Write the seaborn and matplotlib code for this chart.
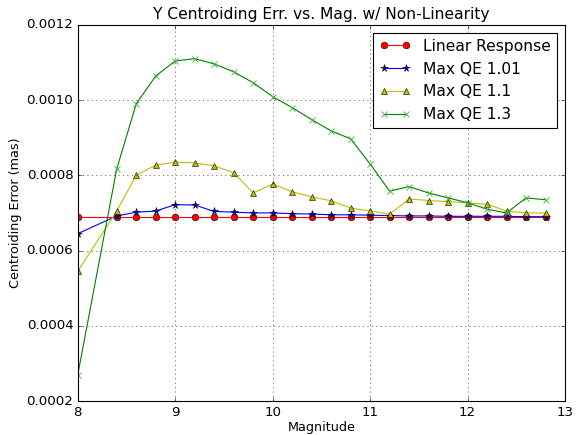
import numpy as np
import pandas as pd
import matplotlib
matplotlib.use("Agg")
import matplotlib.pyplot as plt
import matplotlib.ticker as mticker
import seaborn as sns

magnitude = [8.0, 8.4, 8.6, 8.8, 9.0, 9.2, 9.4, 9.6, 9.8, 10.0, 10.2, 10.4,
             10.6, 10.8, 11.0, 11.2, 11.4, 11.6, 11.8, 12.0, 12.2, 12.4, 12.6, 12.8]

linear_resp = [0.00069] * 24
qe_101 = [0.000645, 0.000692, 0.000702, 0.000705, 0.000722, 0.000721, 0.000704,
          0.000702, 0.000700, 0.000700, 0.000698, 0.000697, 0.000695, 0.000695,
          0.000694, 0.000693, 0.000692, 0.000692, 0.000691, 0.000691, 0.000691,
          0.000691, 0.000690, 0.000690]
qe_11 = [0.000545, 0.000705, 0.000800, 0.000827, 0.000835, 0.000833, 0.000825,
         0.000807, 0.000753, 0.000777, 0.000756, 0.000743, 0.000732, 0.000713,
         0.000705, 0.000697, 0.000737, 0.000733, 0.000730, 0.000727, 0.000723,
         0.000705, 0.000700, 0.000700]
qe_13 = [0.000270, 0.000817, 0.000990, 0.001064, 0.001104, 0.001110, 0.001096,
         0.001075, 0.001046, 0.001009, 0.000980, 0.000948, 0.000918, 0.000897,
         0.000830, 0.000758, 0.000770, 0.000753, 0.000740, 0.000727, 0.000710,
         0.000700, 0.000740, 0.000735]

series = [
    ("Linear Response", linear_resp, "r", "o"),
    ("Max QE 1.01", qe_101, "b", "*"),
    ("Max QE 1.1", qe_11, "y", "^"),
    ("Max QE 1.3", qe_13, "g", "x"),
]

plt.style.use("classic")
plt.rcParams["font.family"] = ["DejaVu Sans"]

# old-style 80 dpi figure
fig = plt.figure(figsize=(576 / 80, 435 / 80), dpi=80)
ax = fig.add_axes([0.135, 0.078, 0.846, 0.865])

for name, vals, col, mk in series:
    df = pd.DataFrame({"Magnitude": magnitude, "err": vals})
    if mk == "x":
        kw = dict(markeredgecolor="#3cb83c", markeredgewidth=0.8, markersize=6)
    else:
        kw = dict(markeredgecolor="k", markeredgewidth=0.5,
                  markersize=6 if mk != "*" else 7)
    sns.lineplot(data=df, x="Magnitude", y="err", color=col, marker=mk,
                 label=name, ax=ax, linewidth=1, **kw)

ax.set_xlim(8, 13)
ax.set_ylim(0.0002, 0.0012)
ax.set_yticks(np.arange(0.0002, 0.00121, 0.0002))
ax.yaxis.set_major_formatter(mticker.FormatStrFormatter("%.4f"))
ax.grid(True)
ax.set_title("Y Centroiding Err. vs. Mag. w/ Non-Linearity", fontsize=14)
ax.set_xlabel("Magnitude", fontsize=11.5, labelpad=2)
ax.set_ylabel("Centroiding Error (mas)", fontsize=11.5, labelpad=4)
ax.legend(loc="upper right", numpoints=2, fontsize=14)

fig.savefig("out.png", dpi=80)
